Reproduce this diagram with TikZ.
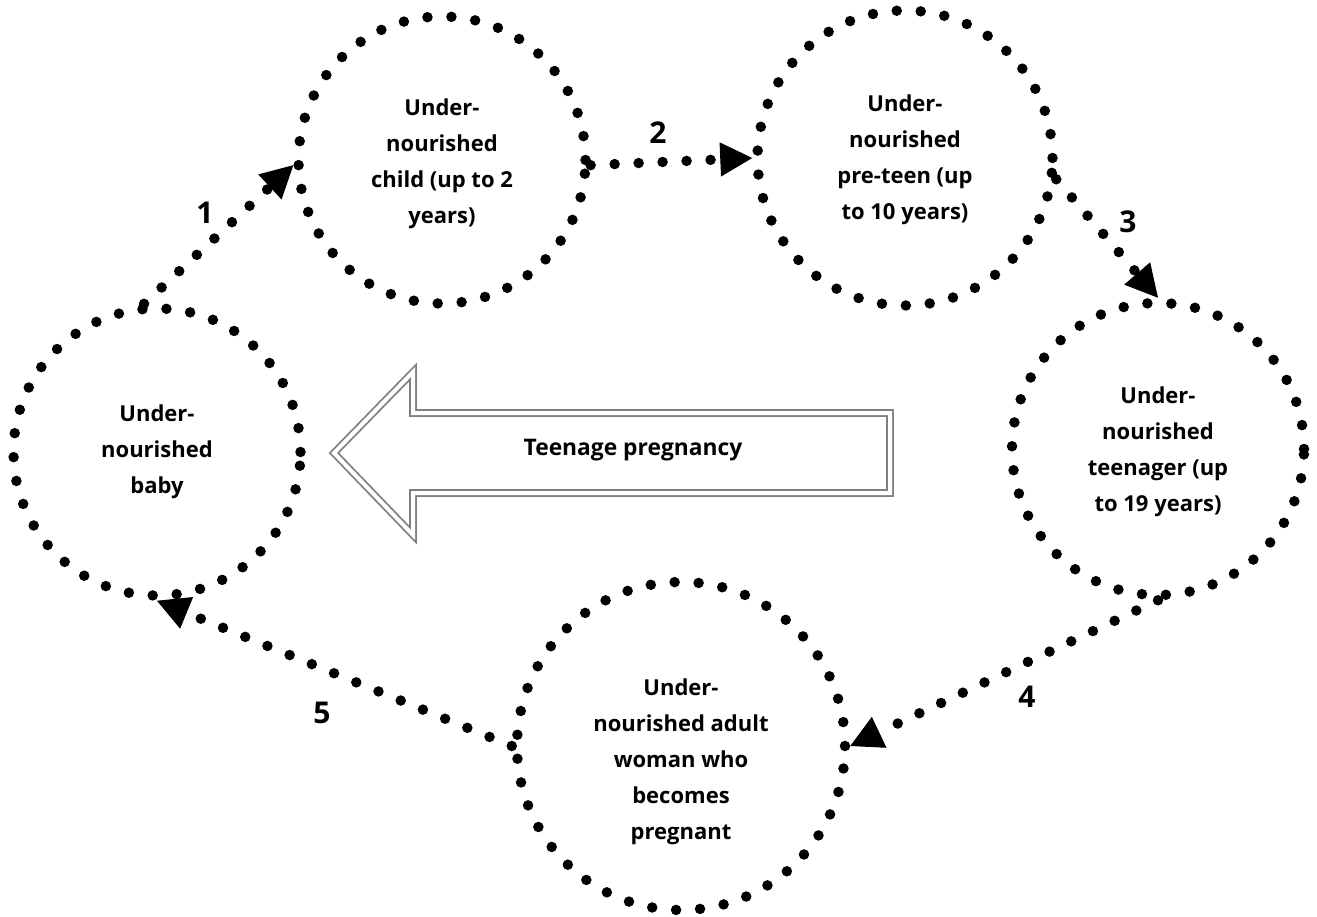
\documentclass[tikz,border=0pt]{standalone}
\usepackage{fontspec}
\setmainfont{Open Sans}
\usetikzlibrary{arrows.meta}
\tikzset{
  ring/.style={circle, draw, line width=10.5pt, line cap=round, dash pattern=on 0pt off 24pt, inner sep=0pt},
  dotlink/.style={line width=10.5pt, line cap=round, dash pattern=on 0pt off 24pt, -{Triangle[length=32pt,width=34pt,line width=1pt]}},
  txt/.style={align=center, font=\bfseries\fontsize{22}{36}\selectfont},
  num/.style={font=\bfseries\fontsize{30}{36}\selectfont},
  bigarrow/.style={draw=gray, line width=1.8pt, double=white, double distance=4pt, line join=miter}
}
\begin{document}
\begin{tikzpicture}[x=1pt,y=-1pt]
\useasboundingbox (0,0) rectangle (1317,917);
% stages of the cycle
\node[ring, minimum size=287pt] (baby) at (157,452) {};
\node[ring, minimum size=287pt] (child) at (442,160) {};
\node[ring, minimum size=295pt] (preteen) at (905,158) {};
\node[ring, minimum size=292pt] (teen) at (1158,449) {};
\node[ring, minimum size=328pt] (adult) at (681,746) {};
\node[txt] (babytext) at (baby) {Under-\\nourished\\baby};
\node[txt] (childtext) at ([yshift=-4pt]child.center) {Under-\\nourished\\child (up to 2\\years)};
\node[txt] (preteentext) at ([yshift=-2pt]preteen.center) {Under-\\nourished\\pre-teen (up\\to 10 years)};
\node[txt] (teentext) at ([yshift=-3pt]teen.center) {Under-\\nourished\\teenager (up\\to 19 years)};
\node[txt] (adulttext) at ([yshift=-16pt]adult.center) {Under-\\nourished adult\\woman who\\becomes\\pregnant};
% dotted links
\draw[dotlink] (baby.95) -- (child.182);
\draw[dotlink] (child.-2) -- (preteen.west);
\draw[dotlink] (preteen.-8) -- (teen.north);
\draw[dotlink] (teen.south) -- (adult.east);
\draw[dotlink] (adult.west) -- (baby.south);
\node[num] (n1) at (205,213) {1};
\node[num] (n2) at (658,133) {2};
\node[num] (n3) at (1128,222) {3};
\node[num] (n4) at (1027,697) {4};
\node[num] (n5) at (322,713) {5};
% teenage pregnancy arrow
\draw[bigarrow] (334,453) -- (413,372) -- (413,413) -- (890,413) -- (890,493) -- (413,493) -- (413,535) -- cycle;
\node[txt, font=\bfseries\fontsize{22.8}{30}\selectfont] (teenpreg) at (633,450) {Teenage pregnancy};
\end{tikzpicture}
\end{document}
